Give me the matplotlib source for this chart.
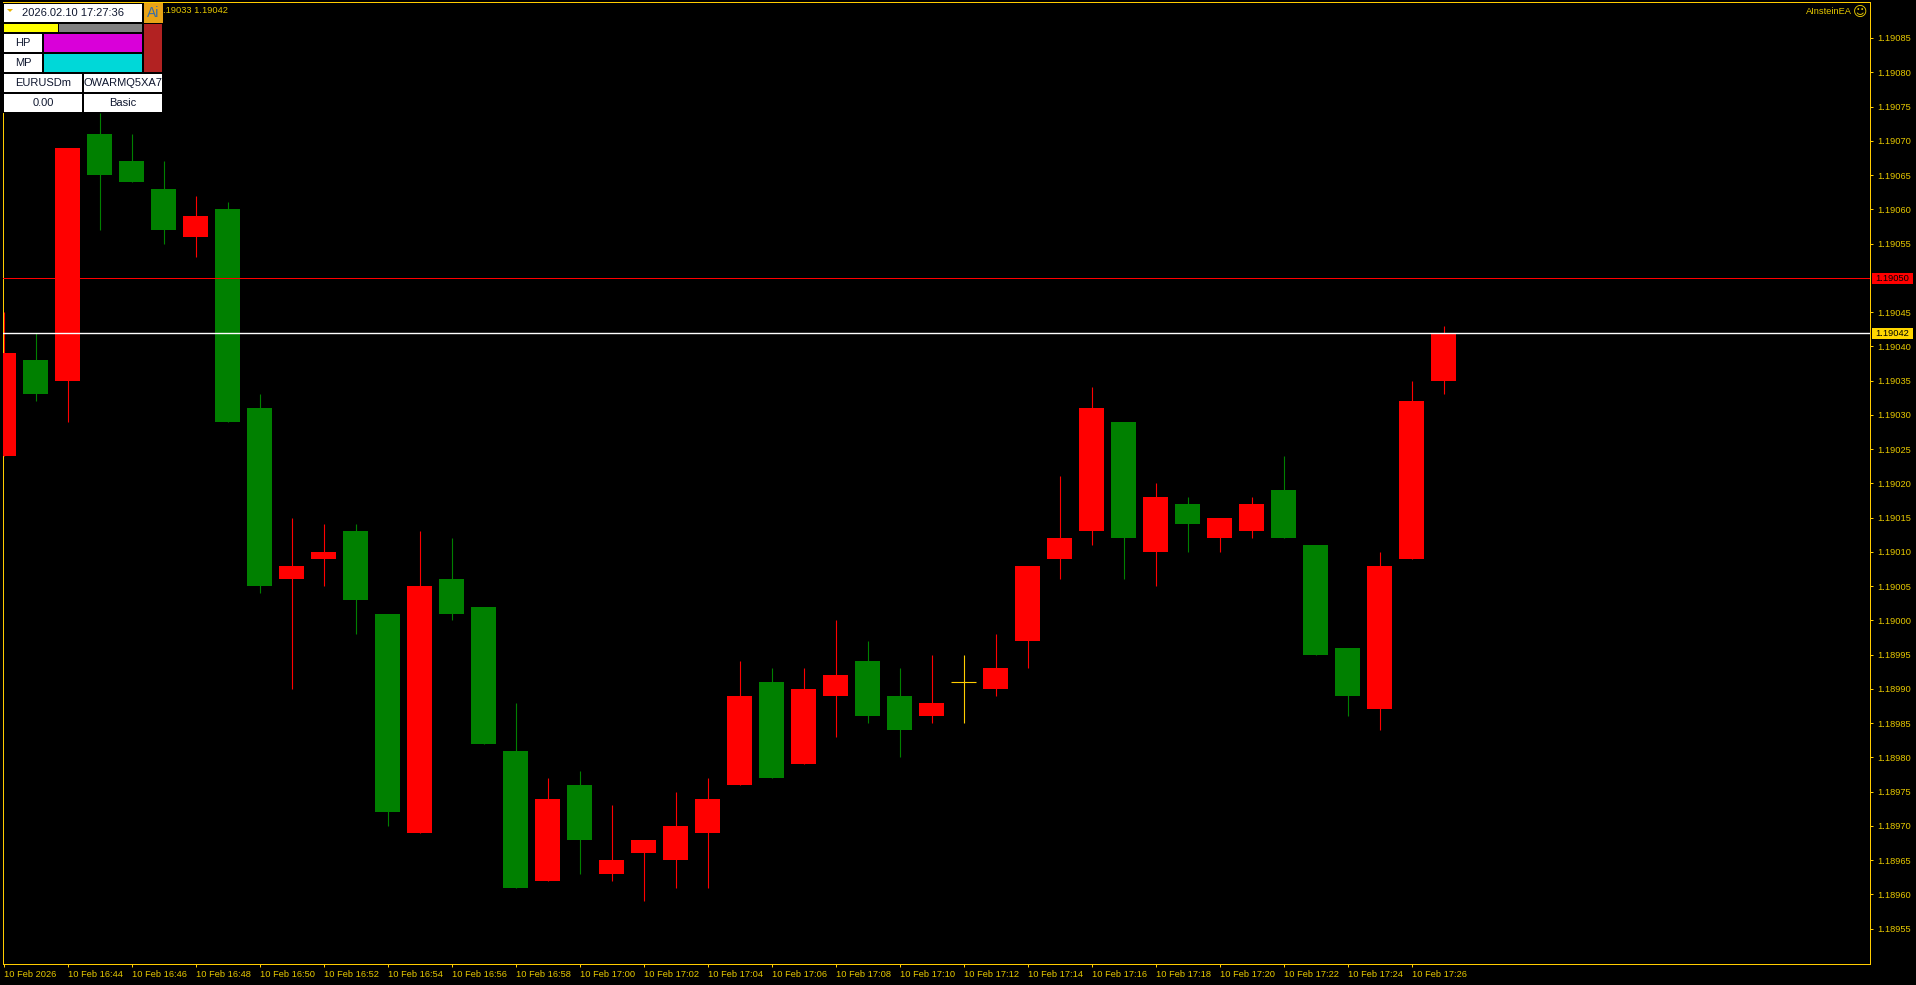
import matplotlib
matplotlib.use("Agg")
import matplotlib.pyplot as plt
from matplotlib.patches import Rectangle, Polygon

plt.rcParams['font.family'] = ['Liberation Sans', 'DejaVu Sans']

# Candles, one per minute starting 16:42 (red = up, green = down on this chart)
opens = [1.19024, 1.19038, 1.19035, 1.19071, 1.19067, 1.19063, 1.19056, 1.19060, 1.19031, 1.19006,
         1.19009, 1.19013, 1.19001, 1.18969, 1.19006, 1.19002, 1.18981, 1.18962, 1.18976, 1.18963,
         1.18966, 1.18965, 1.18969, 1.18976, 1.18991, 1.18979, 1.18989, 1.18994, 1.18989, 1.18986,
         1.18991, 1.18990, 1.18997, 1.19009, 1.19013, 1.19029, 1.19010, 1.19017, 1.19012, 1.19013,
         1.19019, 1.19011, 1.18996, 1.18987, 1.19009, 1.19035]
closes = [1.19039, 1.19033, 1.19069, 1.19065, 1.19064, 1.19057, 1.19059, 1.19029, 1.19005, 1.19008,
          1.19010, 1.19003, 1.18972, 1.19005, 1.19001, 1.18982, 1.18961, 1.18974, 1.18968, 1.18965,
          1.18968, 1.18970, 1.18974, 1.18989, 1.18977, 1.18990, 1.18992, 1.18986, 1.18984, 1.18988,
          1.18991, 1.18993, 1.19008, 1.19012, 1.19031, 1.19012, 1.19018, 1.19014, 1.19015, 1.19017,
          1.19012, 1.18995, 1.18989, 1.19008, 1.19032, 1.19042]
highs = [1.19045, 1.19042, 1.19069, 1.19074, 1.19071, 1.19067, 1.19062, 1.19061, 1.19033, 1.19015,
         1.19014, 1.19014, 1.19001, 1.19013, 1.19012, 1.19002, 1.18988, 1.18977, 1.18978, 1.18973,
         1.18968, 1.18975, 1.18977, 1.18994, 1.18993, 1.18993, 1.19000, 1.18997, 1.18993, 1.18995,
         1.18995, 1.18998, 1.19008, 1.19021, 1.19034, 1.19029, 1.19020, 1.19018, 1.19015, 1.19018,
         1.19024, 1.19011, 1.18996, 1.19010, 1.19035, 1.19043]
lows = [1.19024, 1.19032, 1.19029, 1.19057, 1.19064, 1.19055, 1.19053, 1.19029, 1.19004, 1.18990,
        1.19005, 1.18998, 1.18970, 1.18969, 1.19000, 1.18982, 1.18961, 1.18962, 1.18963, 1.18962,
        1.18959, 1.18961, 1.18961, 1.18976, 1.18977, 1.18979, 1.18983, 1.18985, 1.18980, 1.18985,
        1.18985, 1.18989, 1.18993, 1.19006, 1.19011, 1.19006, 1.19005, 1.19010, 1.19010, 1.19012,
        1.19012, 1.18995, 1.18986, 1.18984, 1.19009, 1.19033]

y_ticks = [1.18955, 1.18960, 1.18965, 1.18970, 1.18975, 1.18980, 1.18985, 1.18990, 1.18995, 1.19000,
           1.19005, 1.19010, 1.19015, 1.19020, 1.19025, 1.19030, 1.19035, 1.19040, 1.19045,
           1.19055, 1.19060, 1.19065, 1.19070, 1.19075, 1.19080, 1.19085]
x_labels = ["10 Feb 2026", "10 Feb 16:44", "10 Feb 16:46", "10 Feb 16:48", "10 Feb 16:50", "10 Feb 16:52",
            "10 Feb 16:54", "10 Feb 16:56", "10 Feb 16:58", "10 Feb 17:00", "10 Feb 17:02", "10 Feb 17:04",
            "10 Feb 17:06", "10 Feb 17:08", "10 Feb 17:10", "10 Feb 17:12", "10 Feb 17:14", "10 Feb 17:16",
            "10 Feb 17:18", "10 Feb 17:20", "10 Feb 17:22", "10 Feb 17:24", "10 Feb 17:26"]
level_price = 1.19050
last_price = 1.19042

W, H = 1916, 985
GOLD = "#FFCC00"
TXT = "#E6C800"
RED = "#FF0000"
GREEN = "#008000"
FS = 6.7

fig = plt.figure(figsize=(W / 100, H / 100), dpi=100, facecolor="black")

# chart frame: px 3..1870 across, 2..964 down
ax = fig.add_axes([3 / W, 1 - 964 / H, (1870 - 3) / W, (964 - 2) / H], facecolor="black")
ax.set_xlim(-0.5 / 32, (1870 - 3.5) / 32)
px = 6.855  # pixels per 0.00001
ax.set_ylim(1.18955 - (964 - 928.7) / px * 1e-5, 1.19085 + (38 - 2) / px * 1e-5)

for i in range(len(opens)):
    o, c, hi, lo = opens[i], closes[i], highs[i], lows[i]
    if c > o:
        col = RED
    elif c < o:
        col = GREEN
    else:
        col = GOLD
    ax.vlines(i, lo, hi, color=col, lw=0.8, zorder=2)
    if c == o:
        ax.hlines(c, i - 0.39, i + 0.39, color=col, lw=0.8, zorder=2)
    else:
        ax.bar(i, abs(c - o), bottom=min(o, c), width=0.78, color=col, lw=0, zorder=3)

ax.axhline(level_price, color=RED, lw=0.72, zorder=4)
ax.axhline(last_price, color="white", lw=1.0, zorder=4)

for s in ax.spines.values():
    s.set_color(GOLD)
    s.set_linewidth(0.72)

ax.yaxis.tick_right()
ax.set_yticks(y_ticks)
ax.set_yticklabels(["%.5f" % v for v in y_ticks], color=TXT, fontsize=FS)
ax.set_xticks(range(0, 2 * len(x_labels), 2))
ax.set_xticklabels(x_labels, color=TXT, fontsize=FS, ha="left")
ax.tick_params(axis="both", color=GOLD, length=2.5, width=0.72, pad=3)
ax.tick_params(axis="x", pad=1.5)

# overlay in screen pixels for the panel, tags and labels
ov = fig.add_axes([0, 0, 1, 1], facecolor="none")
ov.set_xlim(0, W)
ov.set_ylim(H, 0)
ov.axis("off")


def cell(x0, y0, x1, y1, color, label=None, tcol="black", size=FS):
    ov.add_patch(Rectangle((x0, y0), x1 - x0, y1 - y0, facecolor=color, edgecolor="none"))
    if label:
        ov.text((x0 + x1) / 2, (y0 + y1) / 2, label, color=tcol, fontsize=size, ha="center", va="center")


ov.add_patch(Rectangle((3, 3), 161, 110, facecolor="black", edgecolor="none"))
cell(4, 4, 142, 22, "white", "2026.02.10 17:27:36", "#101830", 8)
ov.add_patch(Polygon([(7, 9), (13, 9), (10, 12)], facecolor="#E8B400", edgecolor="none"))
cell(144, 3, 163, 23, "#E8A317", "Ai", "#3A6EA5", 10)
cell(4, 24, 58, 32, "#FFFF00")
cell(59, 24, 142, 32, "#808080")
cell(144, 24, 162, 72, "#B22222")
cell(4, 34, 42, 52, "white", "HP", "#101830", 8)
cell(44, 34, 142, 52, "#D900D9")
cell(4, 54, 42, 72, "white", "MP", "#101830", 8)
cell(44, 54, 142, 72, "#00D8D8")
cell(4, 74, 82, 92, "white", "EURUSDm", "#101830", 8)
cell(84, 74, 162, 92, "white", "OWARMQ5XA7", "#101830", 8)
cell(4, 94, 82, 112, "white", "0.00", "#101830", 8)
cell(84, 94, 162, 112, "white", "Basic", "#101830", 8)

ov.text(163, 10.5, ".19033 1.19042", color=TXT, fontsize=FS, ha="left", va="center")
ov.text(1852, 11.5, "AInsteinEA", color=TXT, fontsize=FS, ha="right", va="center")
ov.text(1860, 12, "\u263a", color=TXT, fontsize=10, ha="center", va="center", family="DejaVu Sans")

cell(1872, 273, 1913, 284, RED, "%.5f" % level_price, "black", FS)
cell(1872, 328, 1913, 339, "#FFD700", "%.5f" % last_price, "black", FS)

fig.savefig("out.png", dpi=100, facecolor="black")
